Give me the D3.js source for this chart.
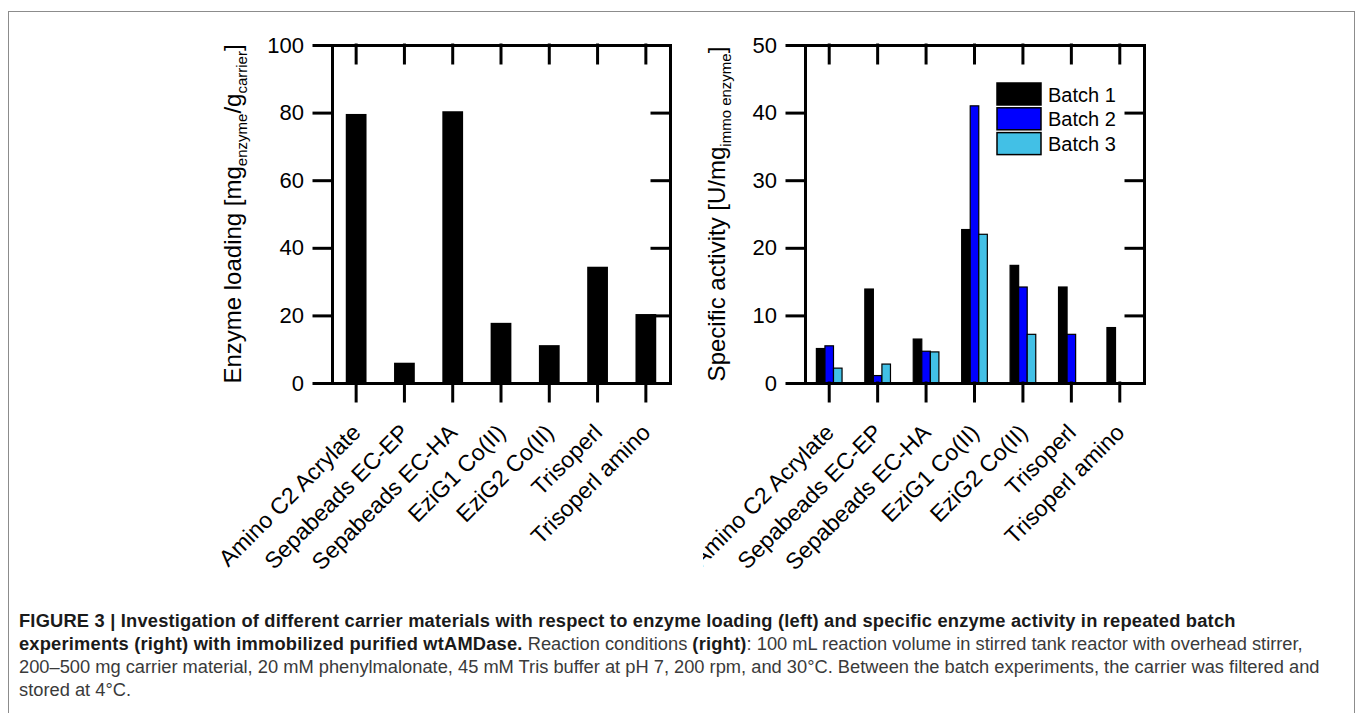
<!DOCTYPE html>
<html>
<head>
<meta charset="utf-8">
<script src="https://cdn.jsdelivr.net/npm/d3@7"></script>
<style>
  body { margin: 0; background: #fff; }
  svg { display: block; font-family: "Liberation Sans", Arial, sans-serif; }
</style>
</head>
<body>
<svg id="fig" width="1357" height="713"></svg>
<script>

var carriers = ["Amino C2 Acrylate", "Sepabeads EC-EP", "Sepabeads EC-HA", "EziG1 Co(II)",
                "EziG2 Co(II)", "Trisoperl", "Trisoperl amino"];
var loading = [79.6, 6.0, 80.4, 17.8, 11.2, 34.4, 20.4];

var batches = ["Batch 1", "Batch 2", "Batch 3"];
var batch1 = [5.1, 13.9, 6.5, 22.7, 17.4, 14.2, 8.2];
var batch2 = [5.5, 1.1, 4.7, 41.0, 14.2, 7.2, null];
var batch3 = [2.2, 2.8, 4.6, 22.0, 7.2, null, null];
var batch_colors = ["#000000", "#0000ff", "#42c0e6"];

var loading_ticks = [0, 20, 40, 60, 80, 100];
var activity_ticks = [0, 10, 20, 30, 40, 50];

var svg = d3.select("#fig");
var tick_len = 18;

// figure frame
svg.append("rect")
    .attr("x", 8.5).attr("y", 11.5)
    .attr("width", 1346).attr("height", 730)
    .attr("fill", "none").attr("stroke", "#8c8c8c");

// the right panel's picture is cut at its left edge
svg.append("clipPath").attr("id", "right_panel")
    .append("rect").attr("x", -102).attr("y", -45).attr("width", 560).attr("height", 600);


function add_frame( g, x, y, ticks, w, h ){
    g.append("g")
        .call(d3.axisLeft(y).tickValues(ticks).tickSize(tick_len).tickSizeOuter(0).tickPadding(10));
    g.append("g")
        .attr("transform", "translate(" + w + ",0)")
        .call(d3.axisRight(y).tickValues(ticks).tickSize(-tick_len).tickSizeOuter(0).tickFormat(""));
    g.append("g")
        .call(d3.axisTop(x).tickSize(-tick_len).tickSizeOuter(0).tickFormat(""));
    var xb = g.append("g")
        .attr("transform", "translate(0," + h + ")")
        .call(d3.axisBottom(x).tickSize(tick_len).tickSizeOuter(0));

    g.selectAll(".domain, .tick line")
        .attr("stroke", "#000").attr("stroke-width", 3).attr("stroke-linecap", "square");
    g.selectAll(".tick text")
        .attr("font-size", 22).attr("font-family", "Liberation Sans, Arial, sans-serif").attr("fill", "#000");

    xb.selectAll("text")
        .attr("x", 0).attr("y", 0).attr("dy", 0)
        .attr("font-size", 23)
        .attr("text-anchor", "end")
        .attr("transform", "translate(6,51) rotate(-45)");
}


function add_ylabel( g, lx, h, parts ){
    var t = g.append("text")
        .attr("transform", "translate(" + lx + "," + (h/2) + ") rotate(-90)")
        .attr("text-anchor", "middle")
        .attr("font-size", 24)
        .attr("fill", "#000");
    var shift = 0;
    parts.forEach(function(p){
        var d = p[1] ? 6 - shift : -shift;
        shift = p[1] ? 6 : 0;
        t.append("tspan")
            .attr("dy", d)
            .attr("font-size", p[1] ? 15 : 24)
            .text(p[0]);
    });
}


// ---- left chart: enzyme loading
var lw = 338, lh = 338;
var gl = svg.append("g").attr("transform", "translate(332,45)");
var xl = d3.scaleBand().domain(carriers).range([0, lw]).padding(0);
var yl = d3.scaleLinear().domain([0, 100]).range([lh, 0]);
var bar_w = xl.bandwidth() * 0.43;

gl.selectAll(".bar")
    .data(loading)
    .enter().append("rect")
        .attr("x", function(d, i){ return xl(carriers[i]) + xl.bandwidth()/2 - bar_w/2; })
        .attr("y", function(d){ return yl(d); })
        .attr("width", bar_w)
        .attr("height", function(d){ return lh - yl(d); })
        .attr("fill", "#000");

add_frame(gl, xl, yl, loading_ticks, lw, lh);
add_ylabel(gl, -91, lh, [["Enzyme loading [mg", false], ["enzyme", true], ["/g", false], ["carrier", true], ["]", false]]);


// ---- right chart: specific activity
var rw = 339, rh = 338;
var gr = svg.append("g").attr("transform", "translate(805,45)").attr("clip-path", "url(#right_panel)");
var xr = d3.scaleBand().domain(carriers).range([0, rw]).padding(0);
var yr = d3.scaleLinear().domain([0, 50]).range([rh, 0]);
var group_w = xr.bandwidth() * 0.53;
var xs = d3.scaleBand().domain(batches).range([0, group_w]);

var series = [batch1, batch2, batch3];
var bar_data = [];
series.forEach(function(vals, b){
    vals.forEach(function(v, i){
        if( v != null ){
            bar_data.push({carrier: carriers[i], batch: batches[b], value: v, color: batch_colors[b]});
        }
    });
});

gr.selectAll(".bar")
    .data(bar_data)
    .enter().append("rect")
        .attr("x", function(d){ return xr(d.carrier) + xr.bandwidth()/2 - group_w/2 + xs(d.batch); })
        .attr("y", function(d){ return yr(d.value); })
        .attr("width", xs.bandwidth())
        .attr("height", function(d){ return rh - yr(d.value); })
        .attr("fill", function(d){ return d.color; })
        .attr("stroke", "#000").attr("stroke-width", 1.2);

add_frame(gr, xr, yr, activity_ticks, rw, rh);
add_ylabel(gr, -80, rh, [["Specific activity [U/mg", false], ["immo enzyme", true], ["]", false]]);

// legend
var leg = gr.append("g").attr("transform", "translate(192,38)");
batches.forEach(function(b, i){
    leg.append("rect")
        .attr("x", 0).attr("y", i*24.8)
        .attr("width", 44).attr("height", 22)
        .attr("fill", batch_colors[i])
        .attr("stroke", "#000").attr("stroke-width", 1.5);
    leg.append("text")
        .attr("x", 51).attr("y", i*24.8 + 18.5)
        .attr("font-size", 20).attr("fill", "#000")
        .text(b);
});


// ---- caption
var cap = svg.append("text")
    .attr("font-size", 18.3)
    .attr("fill", "#3a3a3a");
var cap_lines = [
    [["FIGURE 3 | Investigation of different carrier materials with respect to enzyme loading (left) and specific enzyme activity in repeated batch", true]],
    [["experiments (right) with immobilized purified wtAMDase.", true], [" Reaction conditions ", false], ["(right)", true],
     [": 100 mL reaction volume in stirred tank reactor with overhead stirrer,", false]],
    [["200\u2013500 mg carrier material, 20 mM phenylmalonate, 45 mM Tris buffer at pH 7, 200 rpm, and 30\u00b0C. Between the batch experiments, the carrier was filtered and", false]],
    [["stored at 4\u00b0C.", false]]
];
cap_lines.forEach(function(line, li){
    line.forEach(function(part, pi){
        var ts = cap.append("tspan").text(part[0]);
        if( pi == 0 ) ts.attr("x", 19).attr("y", 627 + li*23);
        if( part[1] ) ts.attr("font-weight", "bold").attr("fill", "#1a1a1a").attr("letter-spacing", 0.2);
    });
});

</script>
</body>
</html>
